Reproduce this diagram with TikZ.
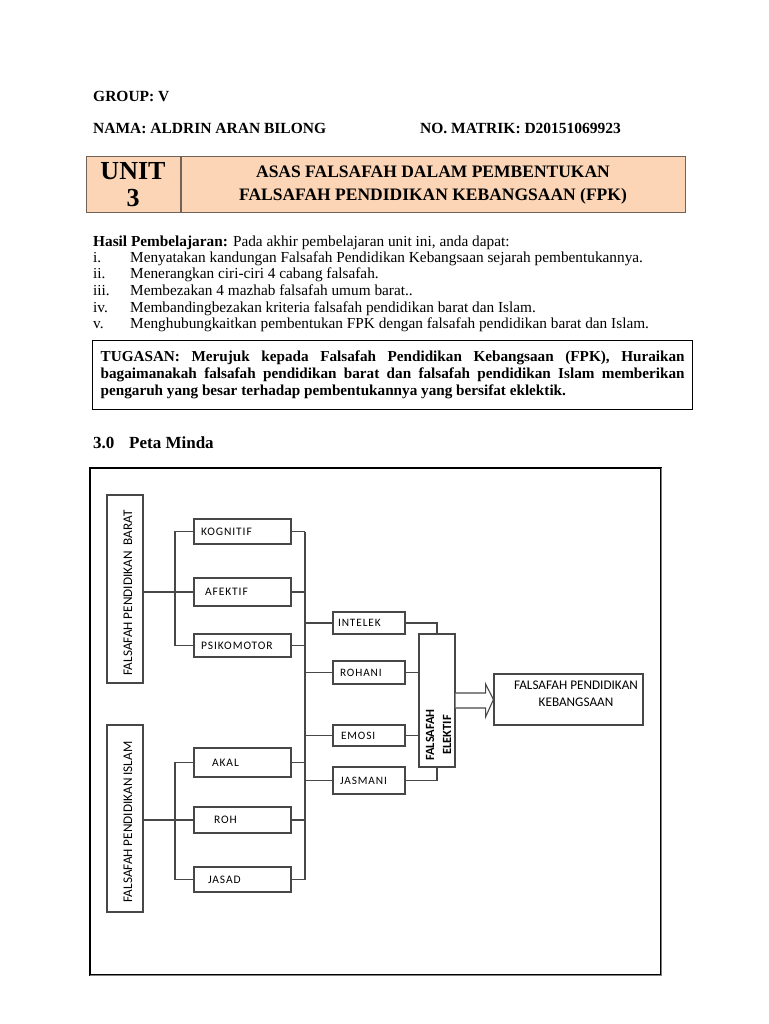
\documentclass[tikz,border=0pt]{standalone}
\usepackage{fontspec}
\setmainfont{Liberation Serif}
\newfontfamily\mapfont{Carlito}[LetterSpace=8]
\newfontfamily\mapfontplain{Carlito}
\usepackage{xcolor}
\usetikzlibrary{positioning, calc}

\definecolor{unitfill}{HTML}{FBD5B5}
\definecolor{unitline}{HTML}{6E6259}
\definecolor{mapline}{HTML}{474747}

\tikzset{
    txt/.style={anchor=base west, inner sep=0pt, font=\fontsize{15.3}{16.7}\selectfont},
    headtxt/.style={txt, font=\bfseries\fontsize{15.5}{18}\selectfont},
    unitcell/.style={draw=unitline, line width=1pt, fill=unitfill, minimum height=56, align=center, inner sep=0pt},
    catbox/.style={draw=mapline, line width=1.1pt, minimum width=97, text width=83, inner xsep=7, inner ysep=0pt, align=left, font=\mapfont\fontsize{11.5}{13}\selectfont},
    subbox/.style={catbox, minimum width=72, text width=62, inner xsep=5, font=\mapfont\fontsize{11.3}{13}\selectfont},
    rootbox/.style={draw=mapline, line width=1.1pt, minimum width=36, inner sep=0pt},
    sidelabel/.style={rotate=90, inner sep=0pt, align=center, font=\mapfontplain\fontsize{13.2}{18}\selectfont}
}

\begin{document}
\begin{tikzpicture}[x=1pt, y=-1pt]

    \useasboundingbox (0,0) rectangle (768,1024);

    % Name and group
    \node[headtxt] (group) at (93,102) {GROUP: V};
    \node[headtxt] (nama) at (93,134) {NAMA: ALDRIN ARAN BILONG};
    \node[headtxt] (matrik) at (420,134) {NO. MATRIK: D20151069923};

    % Unit heading
    \node[unitcell, minimum width=94, font=\bfseries\fontsize{26}{27}\selectfont] (unit) at (133,185) {UNIT\\3};
    \node[unitcell, minimum width=504, right=0pt of unit, font=\bfseries\fontsize{17.5}{23}\selectfont] (title)
        {ASAS FALSAFAH DALAM PEMBENTUKAN\\FALSAFAH PENDIDIKAN KEBANGSAAN (FPK)};

    % Learning outcomes
    \node[txt] (hasil) at (93,246) {\textbf{Hasil Pembelajaran:} Pada akhir pembelajaran unit ini, anda dapat:};
    \node[txt] (item1) at (93,262) {\makebox[37pt][l]{i.}Menyatakan kandungan Falsafah Pendidikan Kebangsaan sejarah pembentukannya.};
    \node[txt] (item2) at (93,278.5) {\makebox[37pt][l]{ii.}Menerangkan ciri-ciri 4 cabang falsafah.};
    \node[txt] (item3) at (93,295) {\makebox[37pt][l]{iii.}Membezakan 4 mazhab falsafah umum barat..};
    \node[txt] (item4) at (93,312) {\makebox[37pt][l]{iv.}Membandingbezakan kriteria falsafah pendidikan barat dan Islam.};
    \node[txt] (item5) at (93,328.5) {\makebox[37pt][l]{v.}Menghubungkaitkan pembentukan FPK dengan falsafah pendidikan barat dan Islam.};

    % Task box
    \node[draw, line width=1.3pt, anchor=north west, minimum height=69, text width=584, inner xsep=8, inner ysep=4,
          align=justify, font=\bfseries\fontsize{15.2}{17}\selectfont] (tugasan) at (92,340)
        {TUGASAN: Merujuk kepada Falsafah Pendidikan Kebangsaan (FPK), Huraikan\linebreak
         bagaimanakah falsafah pendidikan barat dan falsafah pendidikan Islam memberikan\linebreak
         pengaruh yang besar terhadap pembentukannya yang bersifat eklektik.};

    % Section title
    \node[txt, font=\bfseries\fontsize{17}{19}\selectfont] (peta) at (93,448) {\makebox[36pt][l]{3.0}Peta Minda};

    % Frame of the mind map
    \draw[line width=1.2pt] (90,468) rectangle (661,975);
    \draw[gray, line width=1.4pt] (661.5,468) -- (661.5,975.5) -- (90,975.5);

    % Root boxes
    \node[rootbox, minimum height=188] (barat) at (125,589) {};
    \node[rootbox, minimum height=187] (islam) at (125,818.5) {};
    \node[sidelabel] (barat-txt) at (128,593) {FALSAFAH PENDIDIKAN\ \ BARAT};
    \node[sidelabel] (islam-txt) at (128,822) {FALSAFAH PENDIDIKAN ISLAM};

    % Western branches
    \node[catbox, minimum height=25] (kognitif) at (242.5,531.5) {KOGNITIF};
    \node[catbox, minimum height=28] (afektif) at (242.5,592) {\hspace*{4pt}AFEKTIF};
    \node[catbox, minimum height=23] (psikomotor) at (242.5,645.5) {PSIKOMOTOR};

    % Islamic branches
    \node[catbox, minimum height=29] (akal) at (242.5,762.5) {\hspace*{11pt}AKAL};
    \node[catbox, minimum height=26] (roh) at (242.5,820) {\hspace*{13pt}ROH};
    \node[catbox, minimum height=25] (jasad) at (242.5,879.5) {\hspace*{7pt}JASAD};

    % Elements
    \node[subbox, minimum height=22] (intelek) at (369,623) {INTELEK};
    \node[subbox, minimum height=23] (rohani) at (369,672.5) {\hspace*{2pt}ROHANI};
    \node[subbox, minimum height=21] (emosi) at (369,735.5) {\hspace*{3pt}EMOSI};
    \node[subbox, minimum height=27] (jasmani) at (369,780.5) {\hspace*{2pt}JASMANI};

    % Eclectic box and result
    \node[rootbox, minimum height=133] (elektif) at (437,700.5) {};
    \node[sidelabel, font=\mapfontplain\bfseries\fontsize{12.5}{17}\selectfont] (elektif-txt) at (438.5,735) {FALSAFAH\\ELEKTIF};
    \node[rootbox, minimum width=149, minimum height=51] (fpk) at (568.5,699.5) {};
    \node[inner sep=0pt, align=center, font=\mapfontplain\fontsize{13.2}{17}\selectfont] (fpk-txt) at (576,694)
        {FALSAFAH PENDIDIKAN\\KEBANGSAAN};

    % Junctions
    \coordinate (bjoin) at (175,592);
    \coordinate (ijoin) at (175,820);
    \coordinate (spine) at (305,700);

    % Left brackets
    \begin{scope}[draw=mapline, line width=1.1pt]
        \draw (barat.east |- afektif.west) -- (afektif.west);
        \draw (kognitif.west) -| (bjoin) |- (psikomotor.west);
        \draw (islam.east |- roh.west) -- (roh.west);
        \draw (akal.west) -| (ijoin) |- (jasad.west);

        % Spine
        \draw (kognitif.east) -- (kognitif.east -| spine);
        \draw (afektif.east) -- (afektif.east -| spine);
        \draw (psikomotor.east) -- (psikomotor.east -| spine);
        \draw (akal.east) -- (akal.east -| spine);
        \draw (roh.east) -- (roh.east -| spine);
        \draw (jasad.east) -- (jasad.east -| spine);
        \draw (kognitif.east -| spine) -- (jasad.east -| spine);

        \draw (intelek.west -| spine) -- (intelek.west);
        \draw (rohani.west -| spine) -- (rohani.west);
        \draw (emosi.west -| spine) -- (emosi.west);
        \draw (jasmani.west -| spine) -- (jasmani.west);

        % Into the eclectic box
        \draw (intelek.east) -| (elektif.north);
        \draw (rohani.east) -- (rohani.east -| elektif.west);
        \draw (emosi.east) -- (emosi.east -| elektif.west);
        \draw (jasmani.east) -| (elektif.south);

        % Block arrow
        \draw[fill=white] ($(elektif.east)+(0,-7.5)$) -- ++(30,0) -- ++(0,-9) -- (fpk.west)
            -- ($(elektif.east)+(30,16.5)$) -- ++(0,-9) -- ++(-30,0);
    \end{scope}

\end{tikzpicture}
\end{document}
